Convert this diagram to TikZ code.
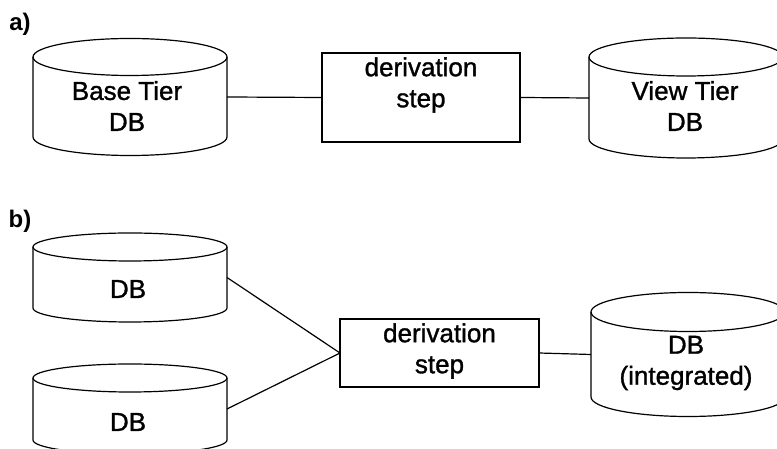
\documentclass[tikz,border=0pt]{standalone}
\usepackage{fontspec}
\setmainfont{Liberation Sans}
\newfontface\labelface{Liberation Sans}[FakeBold=1.2]

\tikzset{
  outline/.style={line width=1.2pt, draw=black},
  dbbody/.style={inner sep=0pt, outer sep=0pt, minimum width=194pt},
  stepbox/.style={draw=black, line width=1.2pt, inner sep=0pt, outer sep=0pt},
  lbl/.style={font=\labelface\fontsize{26}{31}\selectfont, align=center, inner sep=0pt},
  tag/.style={font=\bfseries\fontsize{24}{28}\selectfont, inner sep=0pt},
  link/.style={line width=1.2pt, draw=black}
}

% database cylinder: name, centre, body height (between ellipse centres), vertical radius
\newcommand\dbcyl[4]{%
  \node[dbbody, minimum height=#3] (#1) at #2 {};
  \draw[outline] (#1.north) ellipse[x radius=97pt, y radius=#4];
  \draw[outline] (#1.north west) -- (#1.south west)
    arc[start angle=180, end angle=360, x radius=97pt, y radius=#4]
    -- (#1.north east);
}

\begin{document}
\begin{tikzpicture}[x=1pt, y=1pt]
  \clip (0,0) rectangle (777,449);
  \fill[white] (0,0) rectangle (777,449);

  % ---- a) single derivation step ----
  \node[tag] (taga) at (20,425) {a)};
  \dbcyl{base}{(130,352)}{80pt}{18.5pt}
  \node[lbl] (basetxt) at (127,343) {Base Tier\\DB};

  \node[stepbox, minimum width=198pt, minimum height=89pt] (stepa) at (421,351.5) {};
  \node[lbl] (stepatxt) at ([yshift=-32pt]stepa.north) {derivation\\step};

  \dbcyl{view}{(686,351)}{82pt}{19pt}
  \node[lbl] (viewtxt) at (685,343) {View Tier\\DB};

  \draw[link] (base.east) -- (stepa.west);
  \draw[link] (stepa.east) -- (view.west);

  % ---- b) integration of two databases ----
  \node[tag] (tagb) at (20,228) {b)};
  \dbcyl{srcone}{(130,171.5)}{61pt}{14pt}
  \node[lbl] (srconetxt) at (128,160) {DB};
  \dbcyl{srctwo}{(130,40)}{62pt}{14pt}
  \node[lbl] (srctwotxt) at (128,27) {DB};

  \node[stepbox, minimum width=199pt, minimum height=68pt] (stepb) at (439.5,96) {};
  \node[lbl] (stepbtxt) at ([yshift=-32pt]stepb.north) {derivation\\step};

  \dbcyl{integ}{(688,94.5)}{85pt}{19.5pt}
  \node[lbl] (integtxt) at (686,86) {DB\\(integrated)};

  \draw[link] (srcone.east) -- (stepb.west);
  \draw[link] (srctwo.east) -- (stepb.west);
  \draw[link] (stepb.east) -- (integ.west);
\end{tikzpicture}
\end{document}
